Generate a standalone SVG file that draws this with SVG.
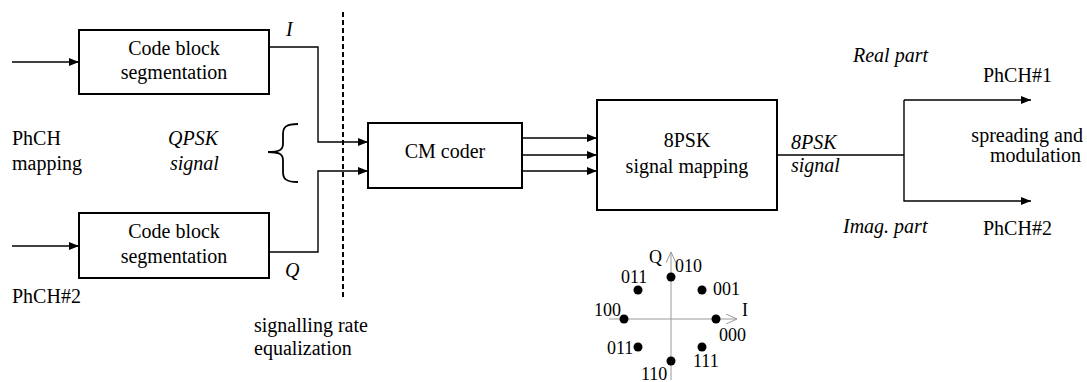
<svg xmlns="http://www.w3.org/2000/svg" width="1087" height="382" viewBox="0 0 1087 382" font-family="Liberation Serif, serif" font-size="20">
<defs>
<marker id="ah" viewBox="0 0 10 8" refX="10" refY="4" markerWidth="10" markerHeight="8" markerUnits="userSpaceOnUse" orient="auto">
<path d="M0,0 L10,4 L0,8 Z" fill="#000"/>
</marker>
<marker id="oh" viewBox="0 0 12 10" refX="11" refY="5" markerWidth="12" markerHeight="10" markerUnits="userSpaceOnUse" orient="auto">
<path d="M0,0 L11,5 L0,10" fill="none" stroke="#999" stroke-width="1"/>
</marker>
</defs>
<style>
.it{font-style:italic}
.sm{font-size:18px}
.box{fill:#fff;stroke:#000;stroke-width:2}
.ln{fill:none;stroke:#000;stroke-width:1.4}
.ax{fill:none;stroke:#999;stroke-width:1}
.c{text-anchor:middle}
</style>
<rect width="1087" height="382" fill="#fff"/>
<g id="connectors">
<line class="ln" x1="12" y1="62" x2="79" y2="62" marker-end="url(#ah)"/>
<line class="ln" x1="12" y1="246" x2="79" y2="246" marker-end="url(#ah)"/>
<polyline class="ln" points="269,47 318,47 318,142 368,142" marker-end="url(#ah)"/>
<polyline class="ln" points="269,252 318,252 318,171 368,171" marker-end="url(#ah)"/>
<line class="ln" x1="522" y1="138" x2="597" y2="138" marker-end="url(#ah)"/>
<line class="ln" x1="522" y1="155" x2="597" y2="155" marker-end="url(#ah)"/>
<line class="ln" x1="522" y1="171" x2="597" y2="171" marker-end="url(#ah)"/>
<line class="ln" x1="777" y1="155" x2="904" y2="155"/>
<polyline class="ln" points="904,100 904,201 1031,201" marker-end="url(#ah)"/>
<line class="ln" x1="904" y1="100" x2="1031" y2="100" marker-end="url(#ah)"/>
</g>
<line id="rate-eq" x1="343" y1="12" x2="343" y2="298" stroke="#000" stroke-width="2" stroke-dasharray="5,3"/>
<path id="brace" d="M298,124 C286,124 283,127 283,134 L283,144 C283,150 279,152 268,152 C279,152 283,154 283,160 L283,172 C283,179 286,182 298,182" fill="none" stroke="#000" stroke-width="1.8"/>
<g id="cbs1">
<rect class="box" x="79" y="30" width="190" height="64"/>
<text class="c" x="174" y="55">Code block</text>
<text class="c" x="174" y="79">segmentation</text>
</g>
<g id="cbs2">
<rect class="box" x="79" y="213" width="190" height="65"/>
<text class="c" x="174" y="238">Code block</text>
<text class="c" x="174" y="263">segmentation</text>
</g>
<g id="cm">
<rect class="box" x="368" y="123" width="154" height="65"/>
<text class="c" x="445" y="158">CM coder</text>
</g>
<g id="psk">
<rect class="box" x="597" y="100" width="180" height="110"/>
<text class="c" x="687" y="147">8PSK</text>
<text class="c" x="687" y="173">signal mapping</text>
</g>
<g id="labels">
<text class="it" x="286" y="36">I</text>
<text class="it" x="285" y="277">Q</text>
<text x="12" y="145">PhCH</text>
<text x="12" y="170">mapping</text>
<text class="it" x="168" y="145">QPSK</text>
<text class="it" x="170" y="170">signal</text>
<text x="12" y="303">PhCH#2</text>
<text x="254" y="332">signalling rate</text>
<text x="254" y="355">equalization</text>
<text class="it" x="791" y="149">8PSK</text>
<text class="it" x="791" y="172">signal</text>
<text class="it" x="853" y="62">Real part</text>
<text class="it" x="843" y="233">Imag. part</text>
<text x="983" y="82">PhCH#1</text>
<text x="983" y="235">PhCH#2</text>
<text x="1083" y="142" text-anchor="end">spreading and</text>
<text x="1081" y="162" text-anchor="end">modulation</text>
</g>
<g id="constellation">
<line class="ax" x1="609" y1="319" x2="737" y2="319" marker-end="url(#oh)"/>
<line class="ax" x1="671" y1="380" x2="671" y2="252" marker-end="url(#oh)"/>
<circle cx="671" cy="277" r="4.5"/>
<circle cx="702" cy="290" r="4.5"/>
<circle cx="716" cy="319" r="4.5"/>
<circle cx="702" cy="347" r="4.5"/>
<circle cx="671" cy="361" r="4.5"/>
<circle cx="638" cy="347" r="4.5"/>
<circle cx="624" cy="319" r="4.5"/>
<circle cx="638" cy="290" r="4.5"/>
<text class="sm" x="649" y="263">Q</text>
<text class="sm" x="675" y="272">010</text>
<text class="sm" x="621" y="283">011</text>
<text class="sm" x="713" y="295">001</text>
<text class="sm" x="594" y="316">100</text>
<text class="sm" x="742" y="316">I</text>
<text class="sm" x="719" y="341">000</text>
<text class="sm" x="607" y="354">011</text>
<text class="sm" x="693" y="367">111</text>
<text class="sm" x="641" y="380">110</text>
</g>
</svg>
